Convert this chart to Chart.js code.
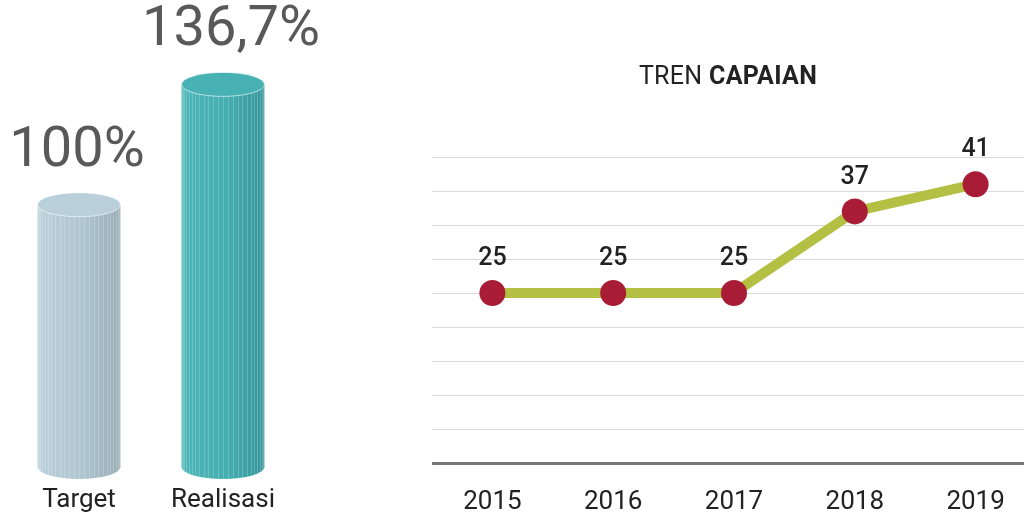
<!DOCTYPE html>
<html>
<head>
<meta charset="utf-8">
<script src="https://cdn.jsdelivr.net/npm/chart.js@4/dist/chart.umd.min.js"></script>
<style>
  body { margin: 0; width: 1024px; height: 518px; overflow: hidden; background: #fff; font-family: Roboto, sans-serif; position: relative; }
  #barChart { position: absolute; left: 0; top: 0; }
  #lineChart { position: absolute; left: 432px; top: 0; }
  #title { position: absolute; left: 528px; width: 400px; top: 61px; text-align: center; font-size: 25px; line-height: 30px; color: #222; letter-spacing: 0.3px; }
  #title b { font-weight: 700; }
</style>
</head>
<body>
<canvas id="barChart" width="360" height="518"></canvas>
<canvas id="lineChart" width="604" height="518"></canvas>
<div id="title">TREN <b>CAPAIAN</b></div>
<script>
// data
const barLabels = ['Target', 'Realisasi'];
const barValues = [100, 136.7];
const barValueText = ['100%', '136,7%'];

const years = ['2015', '2016', '2017', '2018', '2019'];
const capaian = [25, 25, 25, 37, 41];

// cylinder colours: [left, mid, right, top]
const cylColors = [
  ['#bad0da', '#afc6d0', '#98adb5', '#b9cfd9'],
  ['#4eb6b8', '#45aeb1', '#37959a', '#47b1b4']
];

const cylinderPlugin = {
  id: 'cylinder',
  afterDatasetsDraw(chart) {
    const ctx = chart.ctx;
    const meta = chart.getDatasetMeta(0);
    meta.data.forEach((bar, i) => {
      const c = cylColors[i];
      const w = bar.width, x0 = bar.x - w / 2, x1 = bar.x + w / 2;
      const top = bar.y, base = Math.min(bar.base, chart.chartArea.bottom);
      const ry = 12;
      const grad = ctx.createLinearGradient(x0, 0, x1, 0);
      grad.addColorStop(0, c[0]);
      grad.addColorStop(0.55, c[1]);
      grad.addColorStop(1, c[2]);
      ctx.save();
      ctx.fillStyle = grad;
      ctx.beginPath();
      ctx.ellipse(bar.x, base, w / 2, ry, 0, 0, Math.PI * 2);
      ctx.fill();
      ctx.fillRect(x0, top, w, base - top);
      // facet lines
      ctx.strokeStyle = 'rgba(255,255,255,0.2)';
      ctx.lineWidth = 1;
      const n = 26;
      for (let k = 1; k < n; k++) {
        const lx = Math.round(bar.x - (w / 2) * Math.cos(k * Math.PI / n)) + 0.5;
        const dy = ry * Math.sin(k * Math.PI / n);
        ctx.beginPath();
        ctx.moveTo(lx, top + dy);
        ctx.lineTo(lx, base + dy);
        ctx.stroke();
      }
      ctx.fillStyle = c[3];
      ctx.strokeStyle = 'rgba(255,255,255,0.6)';
      ctx.beginPath();
      ctx.ellipse(bar.x, top, w / 2, ry, 0, 0, Math.PI * 2);
      ctx.fill();
      ctx.stroke();
      // value label
      ctx.fillStyle = '#595959';
      ctx.font = '400 56px Roboto';
      ctx.textAlign = 'center';
      ctx.textBaseline = 'middle';
      ctx.fillText(barValueText[i], bar.x + (i === 1 ? 8 : -2), top - 53);
      ctx.restore();
    });
  }
};

const pointLabelPlugin = {
  id: 'pointLabels',
  afterDatasetsDraw(chart) {
    const ctx = chart.ctx;
    const meta = chart.getDatasetMeta(0);
    ctx.save();
    ctx.fillStyle = '#222';
    ctx.font = '500 25px Roboto';
    ctx.textAlign = 'center';
    ctx.textBaseline = 'middle';
    meta.data.forEach((pt, i) => {
      ctx.fillText(String(capaian[i]), pt.x, pt.y - 34);
    });
    ctx.restore();
  }
};

new Chart(document.getElementById('barChart'), {
  type: 'bar',
  data: {
    labels: barLabels,
    datasets: [{
      data: barValues,
      backgroundColor: 'rgba(0,0,0,0)',
      categoryPercentage: 1,
      barPercentage: 0.576
    }]
  },
  options: {
    responsive: false,
    animation: false,
    layout: { padding: { left: 7, right: 65, top: 8, bottom: 0 } },
    plugins: { legend: { display: false }, tooltip: { enabled: false } },
    scales: {
      x: {
        grid: { display: false, drawTicks: false },
        border: { display: false },
        ticks: { color: '#222', font: { family: 'Roboto', size: 26 }, padding: 18 },
        afterFit(scale) { scale.height = 51; }
      },
      y: { display: false, min: 20, max: 160 }
    }
  },
  plugins: [cylinderPlugin]
});

new Chart(document.getElementById('lineChart'), {
  type: 'line',
  data: {
    labels: years,
    datasets: [{
      data: capaian,
      borderColor: '#b4c043',
      borderWidth: 10,
      pointRadius: 13,
      pointHoverRadius: 13,
      pointBackgroundColor: '#a91c35',
      pointBorderWidth: 0,
      fill: false,
      tension: 0
    }]
  },
  options: {
    responsive: false,
    animation: false,
    layout: { autoPadding: false, padding: { left: 0, right: 0, top: 157, bottom: 0 } },
    plugins: { legend: { display: false }, tooltip: { enabled: false } },
    scales: {
      x: {
        offset: true,
        grid: { display: false, drawTicks: false },
        border: { display: true, color: '#777', width: 3 },
        ticks: { color: '#222', font: { family: 'Roboto', size: 26 }, padding: 24 },
        afterFit(scale) { scale.height = 55; scale.paddingLeft = 0; scale.paddingRight = 0; }
      },
      y: {
        min: 0,
        max: 45,
        ticks: { display: false, stepSize: 5 },
        grid: { color: '#d9d9d9', lineWidth: 1, drawTicks: false },
        border: { display: false },
        afterFit(scale) { scale.width = 0; }
      }
    }
  },
  plugins: [pointLabelPlugin]
});
</script>
</body>
</html>
